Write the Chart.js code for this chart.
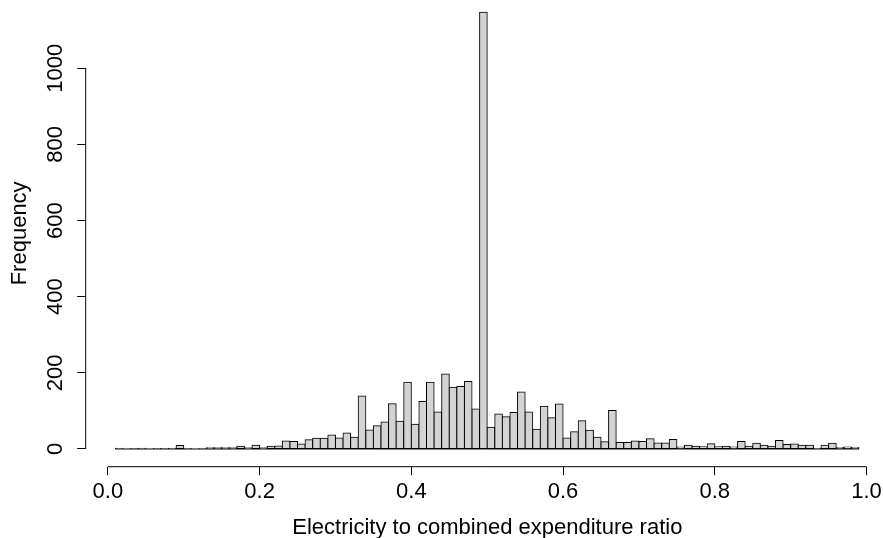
<!DOCTYPE html>
<html>
<head>
<meta charset="utf-8">
<script src="https://cdn.jsdelivr.net/npm/chart.js@4"></script>
<style>
  html, body { margin: 0; padding: 0; background: #fff; overflow: hidden; }
  #wrap { width: 889px; height: 538px; }
</style>
</head>
<body>
<div id="wrap"><canvas id="hist" width="889" height="538"></canvas></div>
<script>
// histogram bins: 0.01 .. 0.99, width 0.01
const firstBreak = 0.01;
const binWidth = 0.01;
const counts = [
  2, 0, 1, 2, 0, 1, 1, 2, 9, 1,          // 0.01 - 0.10
  0, 1, 3, 3, 3, 3, 7, 3, 10, 3,         // 0.11 - 0.20
  7, 8, 21, 20, 13, 24, 28, 28, 37, 29,  // 0.21 - 0.30
  42, 31, 139, 50, 61, 71, 119, 73, 175, 65,     // 0.31 - 0.40
  125, 175, 97, 197, 162, 164, 177, 105, 1147, 57, // 0.41 - 0.50
  92, 85, 96, 150, 97, 52, 112, 82, 118, 29,     // 0.51 - 0.60
  45, 74, 49, 31, 19, 101, 17, 17, 21, 20,       // 0.61 - 0.70
  27, 16, 16, 25, 5, 10, 7, 6, 14, 6,            // 0.71 - 0.80
  7, 5, 20, 7, 15, 10, 7, 22, 12, 13,            // 0.81 - 0.90
  10, 10, 2, 10, 15, 4, 5, 4                     // 0.91 - 0.98
];
const xTicks = [0, 0.2, 0.4, 0.6, 0.8, 1];
const yTicks = [0, 200, 400, 600, 800, 1000];
const xTitle = "Electricity to combined expenditure ratio";
const yTitle = "Frequency";

const points = counts.map((c, i) => ({ x: firstBreak + binWidth * (i + 0.5), y: c }));

const font = { family: "'Liberation Sans', Arial, sans-serif", size: 22 };

// R-style axis lines that only span the first..last tick,
// plus the bottom edge of the histogram (empty bins still show as a line)
const rAxes = {
  id: "rAxes",
  afterDatasetsDraw(chart) {
    const { ctx, scales: { x, y } } = chart;
    const y0 = y.getPixelForValue(0);
    ctx.save();
    ctx.strokeStyle = "#000";
    ctx.lineWidth = 1;
    ctx.beginPath();
    ctx.moveTo(x.getPixelForValue(firstBreak), y0);
    ctx.lineTo(x.getPixelForValue(firstBreak + binWidth * counts.length), y0);
    ctx.stroke();
    ctx.restore();
  },
  afterDraw(chart) {
    const { ctx, chartArea, scales: { x, y } } = chart;
    ctx.save();
    ctx.strokeStyle = "#000";
    ctx.lineWidth = 1;
    ctx.beginPath();
    ctx.moveTo(x.getPixelForValue(xTicks[0]), chartArea.bottom);
    ctx.lineTo(x.getPixelForValue(xTicks[xTicks.length - 1]), chartArea.bottom);
    ctx.moveTo(chartArea.left, y.getPixelForValue(yTicks[0]));
    ctx.lineTo(chartArea.left, y.getPixelForValue(yTicks[yTicks.length - 1]));
    ctx.stroke();
    ctx.restore();
  }
};

const ctx = document.getElementById("hist").getContext("2d");
new Chart(ctx, {
  type: "bar",
  data: {
    datasets: [{
      data: points,
      backgroundColor: "#d3d3d3",
      borderColor: "#000",
      borderWidth: 1,
      borderSkipped: false,
      inflateAmount: 0.5,
      barPercentage: 1,
      categoryPercentage: 1
    }]
  },
  options: {
    responsive: false,
    animation: false,
    devicePixelRatio: 1,
    layout: { padding: 0 },
    plugins: { legend: { display: false }, tooltip: { enabled: false } },
    scales: {
      x: {
        type: "linear",
        offset: false,
        min: -0.0292,
        max: 1.0296,
        afterBuildTicks: (s) => { s.ticks = xTicks.map(v => ({ value: v })); },
        afterFit: (s) => { s.height = 71.3; s.paddingLeft = 0; s.paddingRight = 0; },
        border: { display: false },
        grid: { offset: false, drawOnChartArea: false, drawTicks: true, tickLength: 8.5, color: "#000" },
        ticks: {
          font: font, color: "#000", padding: 4, maxRotation: 0, autoSkip: false,
          callback: (v) => Number(v).toFixed(1)
        },
        title: { display: true, text: xTitle, font: font, color: "#000", padding: { top: 0, bottom: -3.5 } }
      },
      y: {
        type: "linear",
        min: -46.5,
        max: 1179.4,
        afterBuildTicks: (s) => { s.ticks = yTicks.map(v => ({ value: v })); },
        afterFit: (s) => { s.width = 85.7; s.paddingTop = 0; s.paddingBottom = 0; },
        border: { display: false },
        grid: { drawOnChartArea: false, drawTicks: true, tickLength: 8.5, color: "#000" },
        ticks: {
          font: font, color: "#000", padding: -3.3, autoSkip: false,
          minRotation: 90, maxRotation: 90, crossAlign: "center",
          callback: (v) => String(v)
        },
        title: { display: true, text: yTitle, font: font, color: "#000", padding: { top: 6.3, bottom: 0 } }
      }
    }
  },
  plugins: [rAxes]
});
</script>
</body>
</html>
